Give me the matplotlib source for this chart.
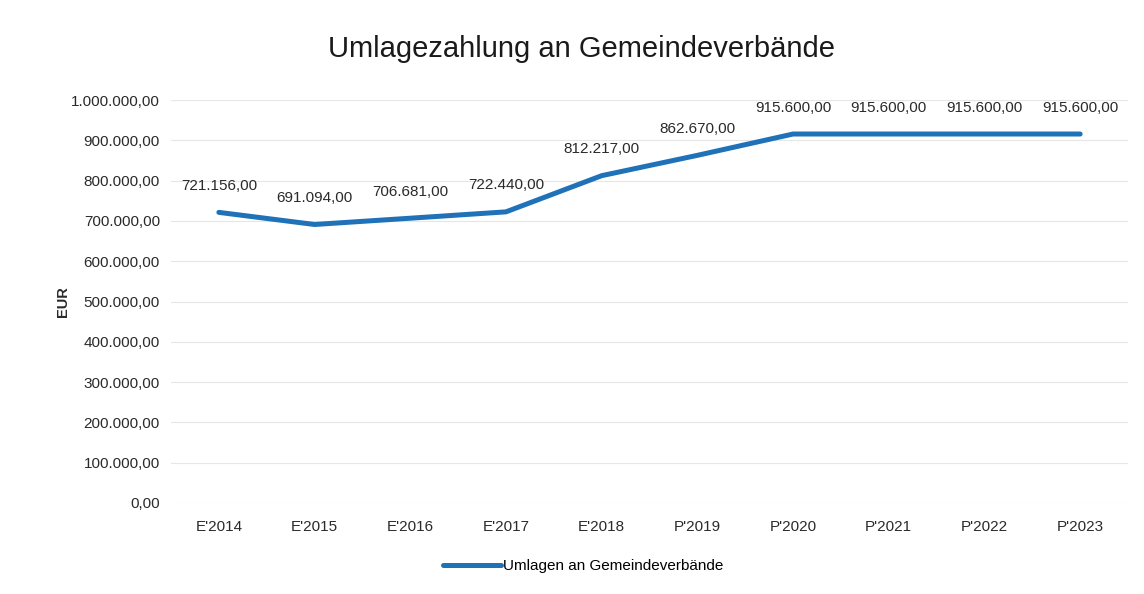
import matplotlib
matplotlib.use("Agg")
import matplotlib.pyplot as plt
from matplotlib.ticker import FuncFormatter, MultipleLocator

plt.rcParams['font.family'] = ['Liberation Sans', 'DejaVu Sans']

categories = ["E'2014", "E'2015", "E'2016", "E'2017", "E'2018",
              "P'2019", "P'2020", "P'2021", "P'2022", "P'2023"]
values = [721156.00, 691094.00, 706681.00, 722440.00, 812217.00,
          862670.00, 915600.00, 915600.00, 915600.00, 915600.00]
series_name = "Umlagen an Gemeindeverbände"
title = "Umlagezahlung an Gemeindeverbände"


def de_fmt(v, pos=None):
    s = f"{v:,.2f}"
    return s.replace(",", "X").replace(".", ",").replace("X", ".")


fig = plt.figure(figsize=(11.44, 5.94), dpi=100)
ax = fig.add_axes([171/1144, 1-503/594, (1128-171)/1144, (503-100)/594])

x = list(range(len(categories)))
line, = ax.plot(x, values, color='#1f72b8', lw=3.6, solid_capstyle='round',
                solid_joinstyle='round', label=series_name, zorder=3)

for xi, v in zip(x, values):
    ax.annotate(de_fmt(v), (xi, v), xytext=(0, 19), textcoords='offset points',
                ha='center', va='center', fontsize=11, color='#2a2a2a')

ax.set_xlim(-0.5, len(categories) - 0.5)
ax.set_ylim(0, 1000000)
ax.yaxis.set_major_locator(MultipleLocator(100000))
ax.yaxis.set_major_formatter(FuncFormatter(de_fmt))
ax.set_xticks(x)
ax.set_xticklabels(categories)
ax.tick_params(axis='both', length=0, labelsize=11, colors='#2a2a2a')
ax.tick_params(axis='x', pad=12)
ax.tick_params(axis='y', pad=8)
ax.grid(axis='y', color='#e6e6e6', lw=0.8)
ax.set_axisbelow(True)
for s in ax.spines.values():
    s.set_visible(False)

ax.set_ylabel("EUR", fontsize=10.5, fontweight='bold', color='#2a2a2a', labelpad=0)
ax.yaxis.set_label_coords((70 - 171) / (1128 - 171), 0.5)

fig.text(581/1144, 1-49/594, title, ha='center', va='center', fontsize=21, color='#1a1a1a')

fig.legend(handles=[line], loc='center', bbox_to_anchor=(583/1144, 1-566/594),
           frameon=False, fontsize=11, handlelength=3.8, handletextpad=0.1)

fig.savefig("out.png", dpi=100)
